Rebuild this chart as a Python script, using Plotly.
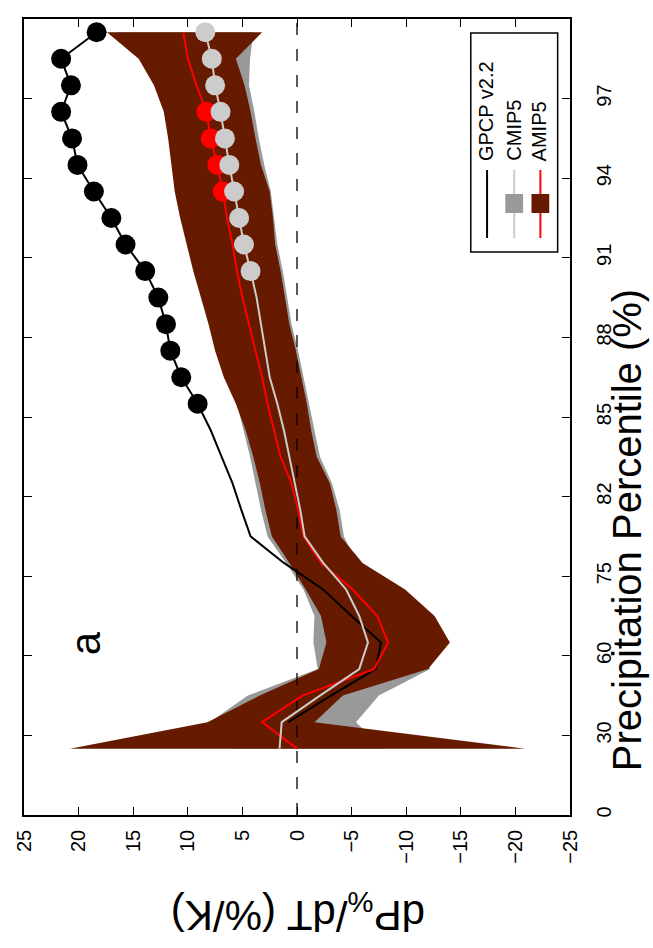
import numpy as np
import plotly.graph_objects as go

# Percentile bins: 30 bins, axis ticks every 3 bins carry the percentile labels
tick_bins = list(range(0, 31, 3))
tick_labels = ["0", "30", "60", "75", "82", "85", "88", "91", "94", "97", "100"]
bins = list(range(2, 30))  # bins with data

# dP/dT (%/K) per bin, bins 2..29
gpcp = [None, 0.8, -3.1, -7.2, -7.7, -5.0, -2.4, 1.2, 4.25, 5.1, 5.9, 6.9, 7.9, 9.1,
        10.6, 11.6, 12.0, 12.7, 13.9, 15.7, 17.0, 18.6, 20.1, 20.6, 21.6, 20.7, 21.6, 18.35]
cmip_mean = [1.6, 1.4, -2.1, -5.7, -6.5, -5.7, -4.5, -2.4, -0.7, -0.3, 0.2, 0.7, 1.2, 1.8,
             2.5, 2.9, 3.3, 3.7, 4.25, 4.86, 5.3, 5.76, 6.2, 6.6, 7.0, 7.5, 7.8, 8.4]
amip_mean = [0.0, 3.2, -0.5, -7.05, -8.35, -7.35, -5.1, -2.2, -0.6, -0.1, 0.5, 1.5, 2.1, 2.7,
             3.2, 3.8, 4.4, 5.0, 5.5, 5.9, 6.4, 6.8, 7.3, 7.9, 8.3, 9.2, 10.0, 10.4]
cmip_hi = [6.0, 8.0, 4.5, -1.9, -1.5, -1.6, -0.6, 1.0, 2.7, 3.3, 3.8, 4.3, 4.9, 5.5,
           6.4, 7.2, 7.8, 8.5, 9.2, 9.8, 10.3, 10.8, 11.1, 11.4, 11.8, 12.6, 14.0, 16.5]
cmip_lo = [-8.0, -5.4, -7.5, -12.2, -11.5, -10.5, -8.5, -5.5, -4.3, -3.9, -3.2, -2.1, -1.6, -1.1,
           -0.6, -0.1, 0.5, 0.9, 1.3, 1.8, 2.1, 2.4, 3.0, 3.5, 3.9, 4.4, 4.3, 4.0]
amip_hi = [20.8, 8.2, 3.4, -2.0, -2.7, -2.2, -0.8, 0.7, 2.3, 2.9, 3.4, 4.0, 4.7, 5.6,
           6.7, 7.5, 8.1, 8.8, 9.5, 10.1, 10.7, 11.2, 11.5, 11.8, 12.2, 13.1, 14.5, 17.4]
amip_lo = [-20.9, -1.6, -4.2, -12.0, -14.0, -12.6, -9.9, -6.0, -4.0, -3.6, -3.0, -1.8, -1.3, -0.9,
           -0.4, 0.1, 0.7, 1.1, 1.5, 2.0, 2.2, 2.5, 3.3, 3.8, 4.25, 4.8, 5.6, 3.2]

# bins where the trend is significant (marked with dots)
gpcp_sig = list(range(15, 30))
cmip_sig = list(range(20, 30))
amip_sig = [23, 24, 25, 26]

BROWN = "#661b00"
GREY_BAND = "#999999"
GREY_LINE = "#cccccc"
FONT = "Liberation Sans, Arial, Helvetica, sans-serif"

W, H = 653, 948
L, R, T, B = 17, 570, 19, 815

ypos = [b + 0.5 for b in bins]


def band(hi, lo, color):
    return go.Scatter(x=list(hi) + list(lo)[::-1], y=ypos + ypos[::-1],
                      fill="toself", fillcolor=color, mode="none",
                      hoverinfo="skip", showlegend=False)


def pick(values, sel):
    return [values[bins.index(b)] for b in sel], [b + 0.5 for b in sel]


fig = go.Figure()
fig.add_trace(band(cmip_hi, cmip_lo, GREY_BAND))
fig.add_trace(band(amip_hi, amip_lo, BROWN))

# zero reference
fig.add_trace(go.Scatter(x=[0, 0], y=[0, 30], mode="lines",
                         line=dict(color="black", width=1.3, dash="12px,14px"),
                         showlegend=False, hoverinfo="skip"))

# GPCP observations
fig.add_trace(go.Scatter(x=gpcp, y=ypos, mode="lines",
                         line=dict(color="black", width=2), showlegend=False))
gx, gy = pick(gpcp, gpcp_sig)
fig.add_trace(go.Scatter(x=gx, y=gy, mode="markers",
                         marker=dict(color="black", size=20), showlegend=False))

# AMIP5
fig.add_trace(go.Scatter(x=amip_mean, y=ypos, mode="lines",
                         line=dict(color="red", width=2), showlegend=False))
ax_, ay_ = pick(amip_mean, amip_sig)
fig.add_trace(go.Scatter(x=ax_, y=ay_, mode="markers",
                         marker=dict(color="red", size=20), showlegend=False))

# CMIP5
fig.add_trace(go.Scatter(x=cmip_mean, y=ypos, mode="lines",
                         line=dict(color=GREY_LINE, width=2), showlegend=False))
cx, cy = pick(cmip_mean, cmip_sig)
fig.add_trace(go.Scatter(x=cx, y=cy, mode="markers",
                         marker=dict(color=GREY_LINE, size=20), showlegend=False))


def px(xp):
    return (xp - L) / (R - L)


def py(yp):
    return (B - yp) / (B - T)


shapes = []
annotations = []

# hand-drawn legend box (rotated layout)
shapes.append(dict(type="rect", xref="paper", yref="paper",
                   x0=px(469.5), x1=px(557.5), y0=py(252), y1=py(33),
                   line=dict(color="black", width=1.5), fillcolor="white", layer="above"))
legend_items = [
    ("GPCP v2.2", "black", None, 486),
    ("CMIP5", GREY_LINE, GREY_BAND, 513.5),
    ("AMIP5", "red", BROWN, 540),
]
for name, lcol, patch, xc in legend_items:
    shapes.append(dict(type="line", xref="paper", yref="paper",
                       x0=px(xc), x1=px(xc), y0=py(238), y1=py(170),
                       line=dict(color=lcol, width=2), layer="above"))
    if patch:
        shapes.append(dict(type="rect", xref="paper", yref="paper",
                           x0=px(xc - 9), x1=px(xc + 9), y0=py(213), y1=py(194),
                           line=dict(width=0), fillcolor=patch, layer="above"))
    annotations.append(dict(text=name, xref="paper", yref="paper",
                            x=px(xc - 1), y=py(163), xanchor="center", yanchor="bottom",
                            textangle=-90, showarrow=False,
                            font=dict(family=FONT, size=20, color="black")))

# panel letter
annotations.append(dict(text="a", xref="paper", yref="paper", x=px(79), y=py(643),
                        xanchor="center", yanchor="middle", textangle=-90, showarrow=False,
                        font=dict(family=FONT, size=42, color="black")))

# axis titles
annotations.append(dict(text="Precipitation Percentile (%)", xref="paper", yref="paper",
                        x=px(628), y=py(530), xanchor="center", yanchor="middle",
                        textangle=-90, showarrow=False,
                        font=dict(family=FONT, size=40, color="black")))
annotations.append(dict(text="dP<sub>%</sub>/dT (%/K)", xref="paper", yref="paper",
                        x=px(294), y=py(913), xanchor="center", yanchor="middle",
                        textangle=180, showarrow=False,
                        font=dict(family=FONT, size=42, color="black")))

fig.update_layout(
    width=W, height=H,
    margin=dict(l=L, r=W - R, t=T, b=H - B, pad=0),
    paper_bgcolor="white", plot_bgcolor="white",
    showlegend=False,
    shapes=shapes, annotations=annotations,
    font=dict(family=FONT, size=20, color="black"),
)
fig.update_xaxes(range=[25, -25], tickvals=list(range(-25, 30, 5)),
                 ticks="inside", ticklen=8, tickwidth=1, tickcolor="black",
                 showline=True, linecolor="black", linewidth=1.5, mirror="ticks",
                 showgrid=False, zeroline=False, tickangle=-90,
                 tickfont=dict(family=FONT, size=20, color="black"),
                 ticklabelstandoff=5)
fig.update_yaxes(range=[0, 30], tickvals=tick_bins, ticktext=tick_labels, side="right",
                 ticks="inside", ticklen=8, tickwidth=1, tickcolor="black",
                 showline=True, linecolor="black", linewidth=1.5, mirror="ticks",
                 showgrid=False, zeroline=False, tickangle=-90,
                 tickfont=dict(family=FONT, size=20, color="black"),
                 ticklabelstandoff=15)

fig.write_html("out.html")
